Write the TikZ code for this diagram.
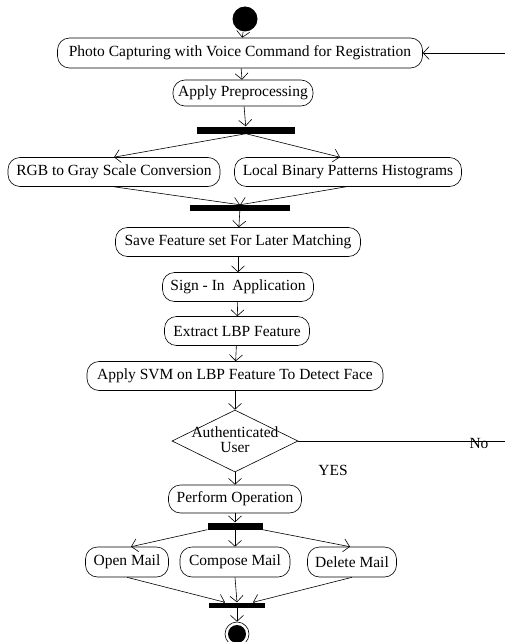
\documentclass[tikz,border=0pt]{standalone}
\usepackage{fontspec}
\setmainfont{Liberation Serif}
\usetikzlibrary{shapes.geometric,arrows.meta}
\begin{document}
\begin{tikzpicture}[x=1pt,y=-1pt,
 act/.style={draw, rounded corners=12pt, minimum height=29pt, inner sep=2pt, line width=0.6pt, font=\fontsize{15.5}{17}\selectfont},
 bar/.style={fill=black, inner sep=0pt},
 lbl/.style={font=\fontsize{15.5}{17}\selectfont, inner sep=0pt},
 arr/.style={-{Straight Barb[length=6pt,width=13pt]}, line width=0.6pt}]
\useasboundingbox (0,0) rectangle (504,642);
\node[circle, fill=black, minimum size=25pt, inner sep=0pt] (start) at (245,19) {};
\node[act, minimum width=365pt, minimum height=30pt] (photo) at (240,53) {Photo Capturing with Voice Command for Registration};
\node[act, minimum width=140pt, minimum height=26pt] (apply) at (243,93) {Apply Preprocessing};
\node[bar, minimum width=98pt, minimum height=7pt] (bar1) at (246,130) {};
\node[act, minimum width=212pt] (rgb) at (114,172) {RGB to Gray Scale Conversion};
\node[act, minimum width=227pt] (lbp) at (348,172) {Local Binary Patterns Histograms};
\node[bar, minimum width=100pt, minimum height=6pt] (bar2) at (240,208) {};
\node[act, minimum width=245pt] (save) at (238,242) {Save Feature set For Later Matching};
\node[act, minimum width=151pt] (sign) at (238,287) {Sign - In\ \ Application};
\node[act, minimum width=145pt] (extract) at (237,331) {Extract LBP Feature};
\node[act, minimum width=296pt] (svm) at (235,376) {Apply SVM on LBP Feature To Detect Face};
\node[diamond, draw, line width=0.6pt, aspect=2, minimum width=126pt, minimum height=62pt, inner sep=0pt] (dia) at (235,441) {};
\node[lbl, align=center, font=\fontsize{15.5}{15}\selectfont] (diatext) at (235,440) {Authenticated\\User};
\node[act, minimum width=133pt, minimum height=28pt] (perform) at (235,499) {Perform Operation};
\node[bar, minimum width=55pt, minimum height=7pt] (bar3) at (235,526) {};
\node[act, minimum width=83pt, minimum height=30pt] (open) at (127,562) {Open Mail};
\node[act, minimum width=110pt, minimum height=30pt] (compose) at (235,562) {Compose Mail};
\node[act, minimum width=89pt, minimum height=30pt] (delete) at (352,562) {Delete Mail};
\node[bar, minimum width=56pt, minimum height=5pt] (bar4) at (237,605) {};
\node[circle, draw, line width=0.6pt, minimum size=24pt, inner sep=0pt] (endo) at (237,634) {};
\node[circle, fill=black, minimum size=18pt, inner sep=0pt] (endi) at (237,634) {};
\node[lbl] (no) at (479,443) {No};
\node[lbl] (yes) at (333,470) {YES};
\coordinate (nr) at (507,441);
\coordinate (tr) at (507,53);
\draw[arr] (start) -- (photo);
\draw[arr] (photo) -- (apply);
\draw[arr] (apply) -- (bar1);
\draw[arr] (bar1.south) -- (rgb.north);
\draw[arr] (bar1.south) -- ([xshift=-8pt]lbp.north);
\draw[arr] (rgb.south) -- (bar2.north);
\draw[arr] ([xshift=-2pt]lbp.south) -- (bar2.north);
\draw[arr] (bar2) -- (save);
\draw[arr] (save) -- (sign);
\draw[arr] (sign) -- (extract);
\draw[arr] (extract) -- (svm);
\draw[arr] (svm) -- (dia);
\draw[arr] (dia) -- (perform);
\draw[arr] (perform) -- (bar3);
\draw[arr] (bar3.south west) -- ([xshift=4pt]open.north);
\draw[arr] (bar3.south) -- (compose.north);
\draw[arr] (bar3.south east) -- ([xshift=-2pt]delete.north);
\draw[arr] (open.south) -- ([xshift=-12pt]bar4.north);
\draw[arr] (compose.south) -- (bar4.north);
\draw[arr] (delete.south) -- ([xshift=16pt]bar4.north);
\draw[arr] (bar4) -- (endo);
\draw[arr] (dia.east) -- (nr) -- (tr) -- (photo.east);
\end{tikzpicture}
\end{document}
